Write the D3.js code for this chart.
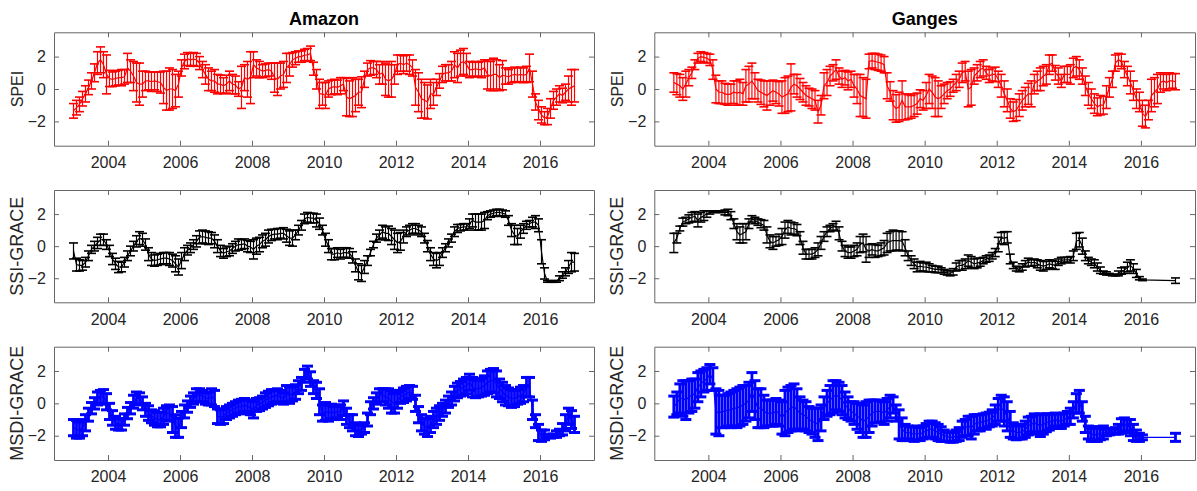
<!DOCTYPE html>
<html><head><meta charset="utf-8">
<script src="https://cdn.jsdelivr.net/npm/d3@7"></script>
<style>body{margin:0;background:#fff}svg{display:block}</style>
</head><body>
<svg id="c" width="1197" height="491"></svg>
<script>
const startYear = 2003;
const xTicks = [2004, 2006, 2008, 2010, 2012, 2014, 2016];
const yTicks = [-2, 0, 2];
const basins = ["Amazon", "Ganges"];
const indices = ["SPEI", "SSI-GRACE", "MSDI-GRACE"];
const N = null;

const amazonSPEI = [
-1.35,-1.15,-0.95,-0.6,-0.3,0.1,0.5,1.0,1.6,1.8,1.5,0.9,
0.65,0.6,0.65,0.7,0.7,0.75,1.3,1.1,0.8,0.4,0.3,0.3,
0.5,0.5,0.45,0.5,0.45,0.4,0.1,-0.1,0.0,0.0,-0.1,0.3,
1.3,1.7,1.85,1.8,1.85,1.8,1.6,1.2,0.9,0.6,0.5,0.5,
0.3,0.3,0.2,0.3,0.5,0.3,0.25,0.0,0.1,0.7,0.6,0.7,
1.5,1.3,1.2,1.1,1.15,1.2,1.1,0.7,0.6,0.8,0.9,1.3,
1.5,1.8,1.9,2.0,2.0,2.1,2.1,2.2,1.25,0.6,-0.3,-0.3,
-0.4,0.0,0.1,0.15,0.1,0.2,0.3,-0.5,-0.6,-0.5,-0.4,-0.2,
-0.2,0.6,1.2,1.3,1.3,1.2,0.9,1.0,0.6,0.5,0.6,0.9,
1.5,1.6,1.5,1.6,1.5,1.3,0.1,-0.2,-0.6,-0.7,-0.8,-0.3,
-0.3,0.1,0.5,0.9,1.0,1.0,1.1,1.5,1.3,1.6,1.7,1.5,
1.2,1.2,1.25,1.2,1.2,1.3,0.9,0.8,0.9,0.9,0.7,0.85,
0.8,0.75,0.85,0.9,0.85,0.9,0.85,0.9,1.3,0.3,-0.8,-1.3,
-1.6,-1.8,-1.7,-1.2,-0.7,-0.5,-0.3,-0.4,-0.2,0.0,0.1,0.2];
const amazonSPEIErr = [
0.45,0.45,0.45,0.45,0.5,0.45,0.5,0.55,0.7,0.8,0.8,1.2,
0.5,0.45,0.45,0.45,0.5,0.45,0.9,0.7,0.9,1.2,1.3,0.8,
0.6,0.55,0.6,0.55,0.6,0.65,1.0,1.2,1.3,1.2,1.0,0.8,
0.5,0.45,0.4,0.4,0.4,0.4,0.4,0.5,0.6,0.7,0.6,0.7,
0.6,0.55,0.5,0.55,0.6,0.6,0.55,0.45,1.3,0.8,1.1,1.6,
0.8,0.5,0.5,0.4,0.4,0.4,0.5,0.9,1.0,0.8,0.8,0.9,
0.7,0.45,0.4,0.35,0.35,0.35,0.4,0.45,0.4,0.6,0.9,0.7,
0.8,0.5,0.45,0.45,0.45,0.5,0.4,1.15,1.1,1.2,1.0,0.8,
0.95,0.5,0.4,0.45,0.4,0.5,0.6,0.7,1.0,1.0,1.1,0.6,
0.6,0.5,0.55,0.5,0.6,0.5,1.1,1.2,1.2,1.1,1.05,0.9,
0.7,0.5,0.45,0.5,0.5,0.5,0.6,0.8,0.9,0.8,0.8,0.7,
0.5,0.45,0.45,0.45,0.5,0.5,0.9,0.9,1.0,0.9,0.8,0.9,
0.5,0.45,0.45,0.45,0.45,0.45,0.45,0.5,0.85,0.8,0.5,0.6,
0.5,0.4,0.5,0.6,0.55,0.5,0.5,0.45,0.5,0.8,1.1,1.0];

const gangesSPEI = [
0.4,0.3,0.2,0.0,0.3,0.7,1.0,1.5,1.9,2.0,1.95,1.9,
1.8,1.2,0.0,-0.2,-0.2,-0.3,-0.35,-0.3,-0.2,-0.25,-0.2,-0.3,
0.2,0.3,0.5,0.2,-0.1,-0.2,-0.3,-0.4,-0.25,-0.1,-0.2,-0.3,
-0.5,-0.4,-0.3,0.1,0.3,0.2,0.0,-0.2,-0.4,-0.5,-0.6,-0.7,
-1.4,-1.0,0.2,0.4,0.8,1.0,1.2,0.8,0.6,0.7,0.5,0.6,
0.2,0.0,-0.4,-0.5,-0.6,1.7,1.75,1.7,1.65,1.6,1.5,0.2,
-0.15,-1.0,-1.2,-1.1,-0.7,-1.1,-1.1,-1.1,-1.0,-0.9,-0.6,-0.7,
-0.4,0.0,-0.2,-0.5,-0.6,-0.5,-0.3,-0.1,0.0,0.2,0.4,0.6,
1.0,1.1,0.0,0.1,0.8,1.0,1.2,1.3,1.0,0.8,0.9,0.9,
0.6,0.2,-0.3,-0.7,-1.2,-1.4,-1.3,-1.0,-0.7,-0.5,-0.3,-0.3,
0.3,0.5,0.6,0.8,0.9,1.5,1.6,1.0,0.8,0.5,0.9,0.9,
0.9,1.3,1.4,1.2,0.8,0.2,-0.3,-0.6,-0.9,-1.1,-1.0,-1.0,
-0.5,0.1,0.6,1.6,1.8,1.7,1.2,0.8,0.4,-0.1,-0.6,-0.8,
-1.5,-1.7,-1.3,-0.4,-0.2,0.0,0.4,0.5,0.4,0.5,0.5,0.45];
const gangesSPEIErr = [
0.6,0.65,0.7,0.7,0.8,0.5,0.35,0.3,0.3,0.3,0.3,0.3,
0.35,0.6,0.85,0.7,0.7,0.65,0.65,0.6,0.7,0.75,0.8,0.7,
1.0,1.1,1.1,0.8,0.7,0.75,0.8,0.9,0.75,0.65,0.7,0.75,
1.0,1.1,1.1,1.45,0.6,0.7,0.65,0.6,0.6,0.55,0.6,0.6,
0.7,0.6,0.8,0.8,0.6,0.5,0.6,0.5,0.5,0.45,0.55,0.5,
0.7,0.9,1.3,1.2,1.2,0.45,0.45,0.5,0.5,0.5,0.5,0.8,
0.6,0.9,0.85,0.9,1.2,0.8,0.75,0.7,0.7,0.65,0.55,0.6,
0.8,0.9,1.0,1.2,1.1,0.7,0.6,0.5,0.45,0.4,0.5,0.5,
0.6,0.6,1.1,1.1,0.5,0.5,0.5,0.5,0.4,0.4,0.4,0.45,
0.5,0.7,0.8,0.7,0.6,0.6,0.65,0.7,0.6,0.6,0.65,0.8,
0.6,0.6,0.7,0.6,0.6,0.6,0.5,0.45,0.5,0.4,0.5,0.5,
0.6,0.6,0.6,0.6,0.5,0.6,0.7,0.6,0.6,0.55,0.6,0.55,
0.7,0.6,0.5,0.5,0.4,0.45,0.5,0.6,0.7,0.6,0.6,0.6,
0.8,0.7,0.6,1.0,0.9,0.9,0.6,0.5,0.5,0.5,0.45,0.5];

const amazonSSI = [
-0.3,-1.15,-1.2,-1.2,-1.0,-0.6,-0.2,0.0,0.2,0.4,0.4,0.1,
-0.3,-0.8,-1.1,-1.3,-1.3,-1.0,-0.6,-0.3,0.0,0.3,0.5,0.4,
0.1,-0.5,-0.8,-0.9,-0.85,-0.8,-0.75,-0.75,-0.8,-0.9,-1.1,-1.3,
-0.9,-0.5,-0.25,-0.1,0.1,0.3,0.55,0.6,0.55,0.5,0.5,0.3,
0.0,-0.3,-0.45,-0.35,-0.3,-0.15,0.0,0.1,0.1,0.15,0.0,-0.05,
-0.2,0.0,0.1,0.3,0.4,0.6,0.7,0.75,0.75,0.8,0.8,0.65,
0.5,0.5,0.7,1.0,1.3,1.7,1.8,1.75,1.75,1.6,1.4,1.0,
0.4,0.0,-0.5,-0.5,-0.4,-0.5,-0.4,-0.4,-0.45,-0.7,-1.2,-1.6,
-1.7,-1.3,-0.9,-0.4,0.1,0.5,0.7,0.9,0.8,0.8,0.6,0.4,
0.2,0.3,0.6,0.9,1.0,1.1,1.1,1.0,0.9,0.5,0.0,-0.5,
-0.8,-0.9,-0.8,-0.4,-0.1,0.2,0.5,0.9,1.1,1.15,1.2,1.2,
1.4,1.6,1.5,1.5,1.5,1.6,1.9,2.0,2.05,2.1,2.1,2.05,
2.0,1.6,1.0,0.7,0.6,0.9,1.1,1.3,1.4,1.5,1.5,1.3,
-0.35,-1.7,-2.2,-2.2,-2.2,-2.2,-2.0,-1.8,-1.6,-1.3,-1.0,-1.0];
const amazonSSIErr = [
0.5,0.4,0.35,0.3,0.3,0.3,0.25,0.3,0.35,0.35,0.35,0.3,
0.35,0.35,0.35,0.35,0.3,0.3,0.3,0.3,0.3,0.35,0.4,0.4,
0.35,0.4,0.4,0.35,0.35,0.35,0.35,0.35,0.4,0.4,0.5,0.5,
0.5,0.4,0.3,0.3,0.3,0.35,0.4,0.4,0.4,0.4,0.35,0.4,
0.4,0.35,0.3,0.3,0.3,0.3,0.3,0.35,0.3,0.3,0.35,0.35,
0.6,0.5,0.45,0.4,0.4,0.4,0.35,0.3,0.35,0.3,0.35,0.4,
0.45,0.5,0.3,0.3,0.3,0.3,0.3,0.3,0.3,0.4,0.35,0.3,
0.4,0.4,0.35,0.35,0.3,0.3,0.3,0.3,0.3,0.35,0.4,0.5,
0.5,0.4,0.3,0.2,0.2,0.25,0.3,0.4,0.4,0.45,0.5,0.6,
0.6,0.55,0.4,0.3,0.3,0.3,0.3,0.3,0.3,0.3,0.35,0.4,
0.4,0.45,0.4,0.3,0.25,0.25,0.25,0.3,0.25,0.2,0.2,0.2,
0.3,0.4,0.5,0.5,0.5,0.5,0.25,0.2,0.2,0.2,0.2,0.2,
0.2,0.3,0.4,0.6,0.5,0.4,0.3,0.25,0.2,0.3,0.4,0.4,
0.75,0.35,0.05,0.05,0.05,0.05,0.15,0.2,0.25,0.4,0.6,0.55];

const gangesSSI = [
0.2,0.5,1.1,1.5,1.6,1.7,1.8,1.85,1.6,1.8,1.9,2.0,
2.1,2.15,2.15,2.15,2.15,2.1,2.1,1.9,1.4,0.9,0.7,0.8,
0.9,1.4,1.7,1.6,1.5,1.4,1.3,0.7,0.3,0.2,0.3,0.4,
0.6,1.0,1.2,1.1,1.1,1.0,0.5,-0.1,-0.5,-0.5,-0.5,-0.4,
-0.2,0.2,0.6,0.9,1.1,1.2,1.25,0.8,0.0,-0.3,-0.4,-0.4,
-0.3,-0.2,0.1,0.2,-0.2,-0.3,-0.2,-0.3,-0.3,-0.2,-0.1,0.2,
0.3,0.35,0.35,0.35,0.3,-0.1,-0.6,-0.9,-1.1,-1.3,-1.25,-1.3,
-1.3,-1.35,-1.4,-1.45,-1.45,-1.5,-1.6,-1.65,-1.7,-1.6,-1.3,-1.2,
-1.2,-1.1,-0.9,-1.0,-1.1,-1.05,-1.0,-0.9,-0.8,-0.75,-0.6,-0.4,
0.1,0.5,0.5,0.55,-0.8,-1.2,-1.4,-1.45,-1.3,-1.1,-1.0,-1.05,
-1.0,-1.1,-1.2,-1.25,-1.2,-1.1,-1.15,-1.2,-1.0,-0.9,-0.85,-0.85,
-0.85,-0.6,0.3,0.4,0.0,-0.6,-0.9,-1.0,-1.1,-1.3,-1.5,-1.65,
-1.7,-1.75,-1.8,-1.8,-1.7,-1.55,-1.5,-1.3,-1.2,-1.4,-1.7,-2.0,
-2.1,N,N,N,N,N,N,N,N,N,N,-2.15];
const gangesSSIErr = [
0.6,0.3,0.15,0.25,0.2,0.25,0.3,0.3,0.4,0.3,0.3,0.2,
0.1,0.05,0.05,0.05,0.05,0.15,0.2,0.25,0.3,0.5,0.5,0.6,
0.5,0.3,0.2,0.2,0.2,0.25,0.3,0.5,0.4,0.4,0.3,0.35,
0.5,0.5,0.4,0.4,0.35,0.35,0.4,0.4,0.3,0.3,0.3,0.3,
0.4,0.4,0.3,0.3,0.2,0.2,0.3,0.4,0.3,0.35,0.35,0.35,
0.35,0.4,0.5,0.55,0.8,0.4,0.35,0.4,0.35,0.4,0.45,0.6,
0.6,0.65,0.6,0.6,0.6,0.5,0.3,0.3,0.3,0.3,0.3,0.25,
0.3,0.25,0.2,0.2,0.2,0.15,0.15,0.15,0.15,0.2,0.25,0.3,
0.3,0.3,0.35,0.35,0.3,0.3,0.25,0.2,0.2,0.2,0.2,0.25,
0.45,0.35,0.4,0.35,0.3,0.2,0.15,0.15,0.2,0.2,0.25,0.2,
0.2,0.25,0.3,0.3,0.25,0.25,0.25,0.25,0.2,0.2,0.15,0.15,
0.2,0.3,0.5,0.45,0.5,0.3,0.2,0.2,0.25,0.25,0.2,0.1,
0.1,0.05,0.05,0.05,0.15,0.2,0.2,0.3,0.35,0.3,0.25,0.1,
0.05,N,N,N,N,N,N,N,N,N,N,0.17];

const amazonMSDI = [
-1.5,-1.6,-1.65,-1.5,-1.2,-0.7,-0.3,0.0,0.3,0.4,0.4,0.1,
-0.5,-0.9,-1.2,-1.3,-1.3,-1.0,-0.6,-0.3,0.1,0.3,0.3,0.0,
-0.4,-0.6,-0.8,-0.9,-1.0,-1.0,-0.8,-0.6,-0.6,-1.0,-1.4,-1.5,
-1.0,-0.5,-0.2,0.1,0.3,0.5,0.5,0.45,0.3,0.3,0.4,0.3,
-0.8,-0.85,-0.8,-0.6,-0.5,-0.4,-0.3,-0.2,-0.2,-0.1,-0.2,-0.25,
-0.4,-0.1,-0.05,0.05,0.2,0.3,0.4,0.45,0.5,0.4,0.3,0.6,
0.5,0.6,0.7,1.0,1.2,1.7,1.9,1.5,1.0,0.8,0.1,-0.6,
-0.5,-0.6,-0.5,-0.6,-0.5,-0.55,-0.3,-0.8,-1.1,-1.2,-1.6,-1.7,
-1.6,-1.5,-1.0,-0.3,0.0,0.3,0.5,0.5,0.4,0.3,0.1,0.0,
0.2,0.4,0.5,0.6,0.7,0.65,0.0,-0.7,-1.2,-1.4,-1.5,-1.3,
-1.0,-0.8,-0.6,-0.4,-0.2,0.1,0.3,0.6,0.8,0.9,1.0,1.1,
1.3,1.0,0.9,0.9,1.0,1.1,1.3,1.4,1.4,1.2,0.9,0.7,
0.5,0.4,0.3,0.3,0.4,0.5,0.6,1.0,1.0,-0.4,-1.1,-1.8,
-2.0,-1.95,-2.0,-2.05,-2.0,-1.9,-1.8,-1.6,-1.2,-0.8,-1.0,-1.3];
const amazonMSDIErr = [
0.5,0.55,0.5,0.5,0.5,0.4,0.35,0.35,0.4,0.4,0.45,0.5,
0.5,0.45,0.4,0.35,0.35,0.35,0.35,0.35,0.4,0.4,0.35,0.4,
0.4,0.45,0.4,0.45,0.45,0.45,0.5,0.45,0.5,0.8,0.7,0.6,
0.5,0.4,0.35,0.35,0.35,0.4,0.4,0.35,0.35,0.4,0.5,0.5,
0.45,0.45,0.45,0.4,0.4,0.4,0.4,0.4,0.45,0.4,0.4,0.45,
0.5,0.4,0.4,0.4,0.45,0.45,0.45,0.4,0.4,0.4,0.35,0.5,
0.5,0.45,0.45,0.4,0.4,0.4,0.4,0.45,0.4,0.5,0.8,0.5,
0.55,0.5,0.45,0.4,0.4,0.45,0.45,0.5,0.4,0.5,0.4,0.35,
0.3,0.3,0.4,0.4,0.35,0.35,0.4,0.4,0.5,0.6,0.7,0.6,
0.5,0.4,0.45,0.45,0.4,0.4,0.5,0.5,0.5,0.5,0.55,0.5,
0.5,0.5,0.45,0.4,0.4,0.35,0.4,0.45,0.45,0.45,0.5,0.5,
0.5,0.6,0.55,0.5,0.55,0.6,0.7,0.7,0.75,0.8,0.6,0.6,
0.6,0.55,0.55,0.5,0.45,0.5,0.5,0.6,0.6,0.6,0.4,0.5,
0.35,0.3,0.1,0.1,0.1,0.2,0.2,0.35,0.5,0.5,0.55,0.5];

const gangesMSDI = [
-0.2,0.0,0.3,0.3,0.2,0.4,0.5,0.6,1.0,1.2,1.4,1.5,
1.8,1.5,-0.5,-0.6,-0.5,-0.5,-0.4,-0.4,-0.3,-0.3,-0.2,-0.1,
0.0,0.2,0.7,0.2,-0.3,-0.3,-0.5,-0.6,-0.6,-0.6,-0.5,-0.6,
-0.9,-0.6,-0.4,-0.3,-0.2,-0.4,-0.6,-0.7,-0.8,-1.0,-1.1,-1.2,
-1.3,-0.9,-0.3,0.0,0.2,0.4,0.5,0.4,0.2,-0.1,-0.3,-0.5,
-0.6,-0.8,-0.9,-1.1,-1.0,-0.8,-0.6,-0.5,-0.5,-0.5,-0.6,-0.4,
-0.2,-0.1,-0.6,-1.3,-1.6,-1.8,-1.8,-1.85,-1.9,-1.85,-1.9,-1.8,
-1.7,-1.6,-1.6,-1.7,-1.8,-1.9,-2.0,-2.05,-2.1,-2.1,-2.0,-1.9,
-1.6,-1.5,-1.4,-1.5,-1.3,-1.2,-1.2,-1.1,-1.1,-1.0,-0.9,-0.7,
-0.4,-0.3,-0.5,-0.8,-1.3,-1.7,-1.8,-1.8,-1.75,-1.6,-1.4,-1.3,
-1.2,-1.3,-1.35,-1.3,-1.2,-1.15,-1.1,-1.0,-1.1,-1.1,-1.0,-0.9,
-0.8,-0.4,0.0,0.1,-0.5,-1.3,-1.8,-1.9,-1.95,-1.9,-1.85,-1.8,
-1.8,-1.75,-1.7,-1.7,-1.6,-1.4,-1.3,-1.4,-1.5,-1.8,-2.0,-2.1,
-2.1,N,N,N,N,N,N,N,N,N,N,-2.1];
const gangesMSDIErr = [
0.65,0.7,0.9,1.1,1.2,1.0,1.0,0.9,0.9,0.8,0.7,0.7,
0.6,0.7,1.4,1.4,1.0,1.0,1.0,1.1,1.1,1.2,1.2,1.2,
1.1,1.1,1.2,1.2,1.2,1.2,1.0,0.8,0.8,0.8,0.8,0.8,
1.0,1.4,1.4,1.4,1.4,1.3,1.0,0.9,0.9,0.8,0.8,0.9,
1.0,0.8,0.7,0.8,0.9,1.0,0.9,0.9,0.9,0.8,0.7,0.6,
0.7,0.8,0.9,1.0,1.1,1.0,0.8,0.7,0.7,0.65,0.7,0.7,
0.7,0.5,0.5,0.9,0.7,0.5,0.4,0.4,0.45,0.45,0.4,0.4,
0.45,0.5,0.5,0.5,0.5,0.45,0.35,0.3,0.3,0.3,0.35,0.4,
0.5,0.5,0.6,0.7,0.6,0.5,0.5,0.45,0.5,0.45,0.5,0.6,
0.7,0.8,0.9,0.9,0.8,0.5,0.45,0.4,0.45,0.5,0.55,0.5,
0.55,0.6,0.7,0.6,0.55,0.5,0.45,0.4,0.45,0.45,0.4,0.4,
0.5,0.5,0.6,0.7,0.6,0.5,0.4,0.45,0.4,0.45,0.4,0.4,
0.2,0.2,0.15,0.2,0.3,0.45,0.4,0.4,0.5,0.5,0.35,0.25,
0.15,N,N,N,N,N,N,N,N,N,N,0.25];

const panels = [
  {col:0,row:0,vals:amazonSPEI,errs:amazonSPEIErr,color:"#ff0000",sw:1.2,capW:1.6,cap:4.5},
  {col:1,row:0,vals:gangesSPEI,errs:gangesSPEIErr,color:"#ff0000",sw:1.2,capW:1.6,cap:4.5},
  {col:0,row:1,vals:amazonSSI,errs:amazonSSIErr,color:"#000000",sw:1.2,capW:1.6,cap:4.5},
  {col:1,row:1,vals:gangesSSI,errs:gangesSSIErr,color:"#000000",sw:1.2,capW:1.6,cap:4.5},
  {col:0,row:2,vals:amazonMSDI,errs:amazonMSDIErr,color:"#0000ff",sw:2.8,capW:3,cap:5.5},
  {col:1,row:2,vals:gangesMSDI,errs:gangesMSDIErr,color:"#0000ff",sw:2.8,capW:3,cap:5.5}
];
const colX = [[54,594],[654.3,1195]];
const rowY = [[32.3,145.7],[190,302.3],[346.7,460]];
const labelSize = [16,18,18];

const svg = d3.select("#c");
const font = "'Liberation Sans', Arial, sans-serif";
const axisCol = "#666666";
const textCol = "#262626";

basins.forEach((b,i)=>{
  svg.append("text").attr("x",(colX[i][0]+colX[i][1])/2).attr("y",25)
    .attr("text-anchor","middle").attr("font-family",font).attr("font-weight","bold")
    .attr("font-size",18).attr("fill","#000").text(b);
});

panels.forEach(p=>{
  const [x0,x1] = colX[p.col], [y0,y1] = rowY[p.row];
  const w = x1-x0, h = y1-y0;
  const g = svg.append("g").attr("transform",`translate(${x0},${y0})`);
  const x = d3.scaleLinear().domain([2002.5,2017.5]).range([0,w]);
  const y = d3.scaleLinear().domain([-3.5,3.5]).range([h,0]);
  const pts = p.vals.map((v,i)=>({t:startYear+(i+0.5)/12,v:v,e:p.errs[i]})).filter(d=>d.v!==null);

  const style = sel => sel.call(s=>{
    s.select(".domain").attr("stroke",axisCol);
    s.selectAll(".tick line").attr("stroke",axisCol);
    s.selectAll(".tick text").attr("fill",textCol).attr("font-family",font).attr("font-size",16);
  });
  g.append("g").attr("transform",`translate(0,${h})`)
    .call(d3.axisBottom(x).tickValues(xTicks).tickFormat(d3.format("d")).tickSizeInner(-5).tickSizeOuter(0).tickPadding(11)).call(style);
  g.append("g").call(d3.axisTop(x).tickValues(xTicks).tickFormat("").tickSizeInner(-5).tickSizeOuter(0)).call(style);
  g.append("g").call(d3.axisLeft(y).tickValues(yTicks).tickFormat(d3.format("d")).tickSizeInner(-5).tickSizeOuter(0).tickPadding(8)).call(style);
  g.append("g").attr("transform",`translate(${w},0)`)
    .call(d3.axisRight(y).tickValues(yTicks).tickFormat("").tickSizeInner(-5).tickSizeOuter(0)).call(style);

  const eb = g.append("g").attr("stroke",p.color).attr("fill","none");
  eb.selectAll("line.v").data(pts).join("line").attr("class","v").attr("stroke-width",p.sw)
    .attr("x1",d=>x(d.t)).attr("x2",d=>x(d.t)).attr("y1",d=>y(d.v-d.e)).attr("y2",d=>y(d.v+d.e));
  eb.selectAll("line.u").data(pts).join("line").attr("class","u").attr("stroke-width",p.capW)
    .attr("x1",d=>x(d.t)-p.cap).attr("x2",d=>x(d.t)+p.cap).attr("y1",d=>y(d.v+d.e)).attr("y2",d=>y(d.v+d.e));
  eb.selectAll("line.l").data(pts).join("line").attr("class","l").attr("stroke-width",p.capW)
    .attr("x1",d=>x(d.t)-p.cap).attr("x2",d=>x(d.t)+p.cap).attr("y1",d=>y(d.v-d.e)).attr("y2",d=>y(d.v-d.e));
  g.append("path").datum(pts).attr("fill","none").attr("stroke",p.color).attr("stroke-width",1.2)
    .attr("d",d3.line().x(d=>x(d.t)).y(d=>y(d.v)));

  svg.append("text").attr("transform",`translate(${p.col===0?23:623},${(y0+y1)/2}) rotate(-90)`)
    .attr("text-anchor","middle").attr("font-family",font).attr("font-size",labelSize[p.row])
    .attr("fill",textCol).text(indices[p.row]);
});
</script>
</body></html>
